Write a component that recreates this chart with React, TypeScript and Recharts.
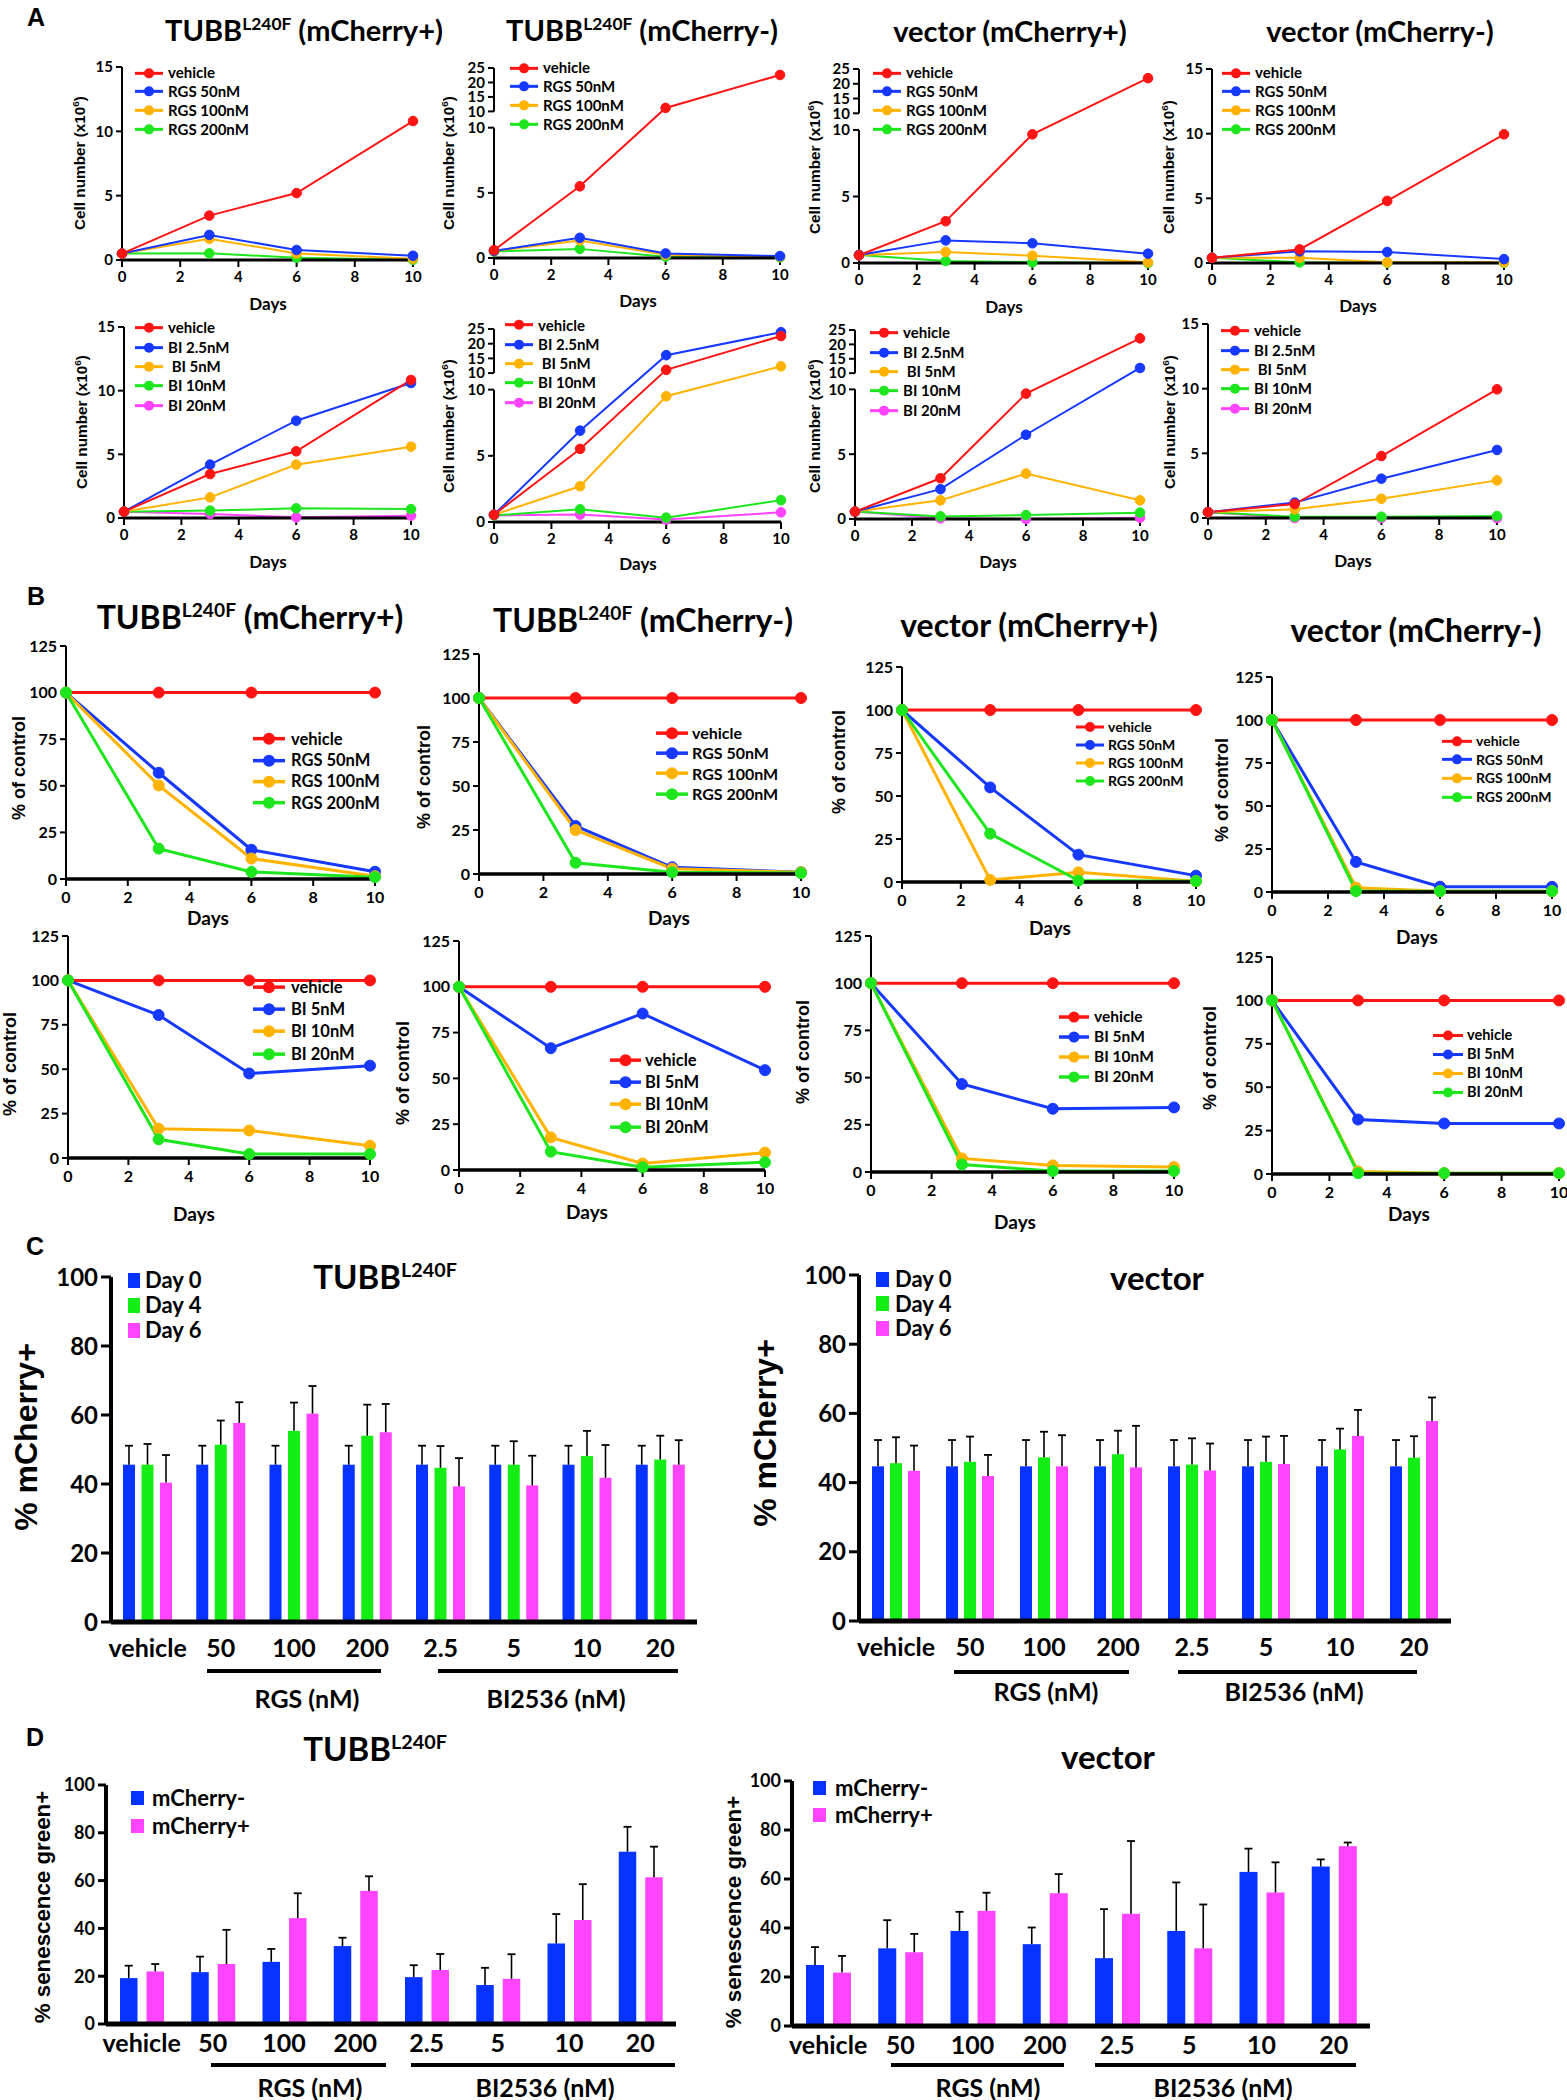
import React from 'react';
import { LineChart, Line, XAxis, YAxis, Legend, ReferenceLine, BarChart, Bar } from 'recharts';

// ---------------- fonts & colours ----------------
const LATO = 'Lato, "Open Sans", "DejaVu Sans", sans-serif';
const ARIAL = '"Liberation Sans", Arial, sans-serif';

const RED = '#ff1414';
const BLUE = '#1638ff';
const ORANGE = '#ffb300';
const GREEN = '#1ee61e';
const MAGENTA = '#ff44ff';
const BAR_BLUE = '#0633ff';
const BAR_GREEN = '#14ee14';
const BAR_MAGENTA = '#ff44ff';

// ---------------- data ----------------
const DAYS = [0, 3, 6, 10];
const DAY_TICKS = [0, 2, 4, 6, 8, 10];
const CELL_TICKS = [0, 5, 10, 15];
const LOWER_TICKS = [0, 5, 10];
const UPPER_TICKS = [10, 15, 20, 25];
const PCT_TICKS = [0, 25, 50, 75, 100, 125];
const BAR_TICKS = [0, 20, 40, 60, 80, 100];
const GROUPS = ['vehicle', '50', '100', '200', '2.5', '5', '10', '20'];

// Panel A: cell number (x10^6) at DAYS
const A_TUBB_POS_RGS = {
  vehicle: [0.5, 3.45, 5.2, 10.8],
  rgs50: [0.5, 1.95, 0.78, 0.33],
  rgs100: [0.5, 1.65, 0.5, 0.1],
  rgs200: [0.5, 0.52, 0.18, 0.02],
};
const A_TUBB_NEG_RGS = {
  vehicle: [0.6, 5.5, 11.2, 22.6],
  rgs50: [0.55, 1.55, 0.35, 0.15],
  rgs100: [0.55, 1.35, 0.25, 0.1],
  rgs200: [0.5, 0.7, 0.1, 0.05],
};
const A_VEC_POS_RGS = {
  vehicle: [0.58, 3.14, 9.67, 21.9],
  rgs50: [0.6, 1.7, 1.48, 0.7],
  rgs100: [0.6, 0.83, 0.55, 0.05],
  rgs200: [0.6, 0.15, 0.05, 0.0],
};
const A_VEC_NEG_RGS = {
  vehicle: [0.4, 1.05, 4.8, 9.95],
  rgs50: [0.4, 0.9, 0.85, 0.3],
  rgs100: [0.4, 0.4, 0.05, 0.05],
  rgs200: [0.4, 0.05, 0.02, 0.02],
};
const A_TUBB_POS_BI = {
  vehicle: [0.5, 3.45, 5.24, 10.84],
  bi25: [0.5, 4.19, 7.64, 10.6],
  bi5: [0.5, 1.62, 4.19, 5.6],
  bi10: [0.5, 0.58, 0.76, 0.7],
  bi20: [0.5, 0.32, 0.05, 0.18],
};
const A_TUBB_NEG_BI = {
  vehicle: [0.55, 5.52, 11.1, 22.6],
  bi25: [0.55, 6.9, 16.1, 23.9],
  bi5: [0.55, 2.7, 9.5, 12.3],
  bi10: [0.5, 0.96, 0.33, 1.65],
  bi20: [0.5, 0.56, 0.18, 0.73],
};
const A_VEC_POS_BI = {
  vehicle: [0.57, 3.14, 9.67, 22.1],
  bi25: [0.57, 2.3, 6.5, 11.8],
  bi5: [0.57, 1.44, 3.5, 1.44],
  bi10: [0.57, 0.2, 0.3, 0.49],
  bi20: [0.57, 0.05, 0.0, 0.1],
};
const A_VEC_NEG_BI = {
  vehicle: [0.45, 1.08, 4.79, 9.95],
  bi25: [0.45, 1.19, 3.04, 5.26],
  bi5: [0.45, 0.67, 1.49, 2.91],
  bi10: [0.45, 0.1, 0.1, 0.15],
  bi20: [0.45, 0.0, 0.0, 0.0],
};

// Panel B: % of control at DAYS
const B_VEHICLE = [100, 100, 100, 100];
const B_TUBB_POS_RGS = { vehicle: B_VEHICLE, rgs50: [100, 57, 15.7, 3.9], rgs100: [100, 50.2, 11, 1.5], rgs200: [100, 16.3, 3.8, 1] };
const B_TUBB_NEG_RGS = { vehicle: B_VEHICLE, rgs50: [100, 27.3, 3.8, 1], rgs100: [100, 25, 3, 1], rgs200: [100, 6.4, 1, 0.5] };
const B_VEC_POS_RGS = { vehicle: B_VEHICLE, rgs50: [100, 55, 15.9, 3.7], rgs100: [100, 1.2, 5.6, 0.5], rgs200: [100, 28.1, 0.8, 0.5] };
const B_VEC_NEG_RGS = { vehicle: B_VEHICLE, rgs50: [100, 17.5, 3.1, 3], rgs100: [100, 2.5, 0.5, 0.5], rgs200: [100, 0.5, 0.5, 0.5] };
const B_TUBB_POS_BI = { vehicle: B_VEHICLE, bi5: [100, 80.5, 47.6, 52], bi10: [100, 16.5, 15.5, 6.9], bi20: [100, 10.5, 2.2, 2.2] };
const B_TUBB_NEG_BI = { vehicle: B_VEHICLE, bi5: [100, 66.5, 85.4, 54.5], bi10: [100, 17.8, 3.6, 9.5], bi20: [100, 10, 1.5, 4.2] };
const B_VEC_POS_BI = { vehicle: B_VEHICLE, bi5: [100, 46.6, 33.5, 34.2], bi10: [100, 7.2, 3.5, 2.6], bi20: [100, 4, 0.5, 0.5] };
const B_VEC_NEG_BI = { vehicle: B_VEHICLE, bi5: [100, 31.4, 29.1, 29.1], bi10: [100, 1.5, 0.5, 0.5], bi20: [100, 0.5, 0.5, 0.5] };

// Panel C: % mCherry+ (mean, upper SD) per GROUPS
const C_TUBB_DAY0 = [45.6, 45.6, 45.6, 45.6, 45.6, 45.6, 45.6, 45.6];
const C_TUBB_DAY0_ERR = [5.5, 5.5, 5.5, 5.5, 5.5, 5.5, 5.5, 5.5];
const C_TUBB_DAY4 = [45.6, 51.4, 55.4, 54, 44.7, 45.6, 48.1, 47.1];
const C_TUBB_DAY4_ERR = [6, 7, 8.2, 9, 6.3, 6.8, 7.3, 6.9];
const C_TUBB_DAY6 = [40.4, 57.7, 60.4, 55, 39.3, 39.6, 41.8, 45.6];
const C_TUBB_DAY6_ERR = [8, 6, 8, 8.2, 8.2, 8.6, 9.5, 7.1];
const C_VEC_DAY0 = [44.7, 44.7, 44.7, 44.7, 44.7, 44.7, 44.7, 44.7];
const C_VEC_DAY0_ERR = [7.6, 7.6, 7.6, 7.6, 7.6, 7.6, 7.6, 7.6];
const C_VEC_DAY4 = [45.6, 46, 47.3, 48.2, 45.2, 46, 49.6, 47.2];
const C_VEC_DAY4_ERR = [7.5, 7.3, 7.4, 6.8, 7.6, 7.3, 6, 6.2];
const C_VEC_DAY6 = [43.4, 41.9, 44.7, 44.4, 43.5, 45.4, 53.5, 57.8];
const C_VEC_DAY6_ERR = [7.3, 6.1, 9, 12, 7.8, 8.1, 7.5, 6.8];

// Panel D: % senescence green+ per GROUPS
const D_TUBB_NEG = [19.2, 21.7, 26, 32.6, 19.6, 16.3, 33.7, 72.1];
const D_TUBB_NEG_ERR = [5.2, 6.5, 5.4, 3.5, 5, 7.2, 12.3, 10.4];
const D_TUBB_POS = [22, 25.1, 44.3, 55.7, 22.6, 18.9, 43.5, 61.4];
const D_TUBB_POS_ERR = [3.1, 14.3, 10.4, 6.1, 6.7, 10.3, 15, 12.8];
const D_VEC_NEG = [24.9, 31.7, 38.8, 33.4, 27.7, 38.8, 62.9, 65.1];
const D_VEC_NEG_ERR = [7.3, 11.5, 7.8, 6.8, 20, 19.8, 9.5, 2.9];
const D_VEC_POS = [21.8, 30.1, 47, 54.2, 45.8, 31.7, 54.5, 73.4];
const D_VEC_POS_ERR = [6.8, 7.5, 7.4, 7.8, 29.7, 17.9, 12.3, 1.5];

// ---------------- series ----------------
type Series = { key: string; name: string; color: string };
const RGS_SERIES: Series[] = [
  { key: 'vehicle', name: 'vehicle', color: RED },
  { key: 'rgs50', name: 'RGS 50nM', color: BLUE },
  { key: 'rgs100', name: 'RGS 100nM', color: ORANGE },
  { key: 'rgs200', name: 'RGS 200nM', color: GREEN },
];
const BI_A_SERIES: Series[] = [
  { key: 'vehicle', name: 'vehicle', color: RED },
  { key: 'bi25', name: 'BI 2.5nM', color: BLUE },
  { key: 'bi5', name: ' BI 5nM', color: ORANGE },
  { key: 'bi10', name: 'BI 10nM', color: GREEN },
  { key: 'bi20', name: 'BI 20nM', color: MAGENTA },
];
const BI_B_SERIES: Series[] = [
  { key: 'vehicle', name: 'vehicle', color: RED },
  { key: 'bi5', name: 'BI 5nM', color: BLUE },
  { key: 'bi10', name: 'BI 10nM', color: ORANGE },
  { key: 'bi20', name: 'BI 20nM', color: GREEN },
];
const C_SERIES: Series[] = [
  { key: 'd0', name: 'Day 0', color: BAR_BLUE },
  { key: 'd4', name: 'Day 4', color: BAR_GREEN },
  { key: 'd6', name: 'Day 6', color: BAR_MAGENTA },
];
const D_SERIES: Series[] = [
  { key: 'neg', name: 'mCherry-', color: BAR_BLUE },
  { key: 'pos', name: 'mCherry+', color: BAR_MAGENTA },
];

// broken-axis (10 | 10) mapping used for four panel A graphs
const BROKEN = { at: 10, gap: 1.25, ratio: 0.222, top: 25 };
const upperPos = (v: number) => BROKEN.at + BROKEN.gap + (v - BROKEN.at) * BROKEN.ratio;
const brokenTf = (v: number) => (v <= BROKEN.at ? v : upperPos(v));

function lineRows(values: Record<string, number[]>, tf: (v: number) => number) {
  return DAYS.map((d, i) => {
    const r: any = { day: d };
    Object.keys(values).forEach((k) => {
      r[k] = tf(values[k][i]);
    });
    return r;
  });
}

function barRows(cols: Record<string, [number[], number[]]>) {
  return GROUPS.map((label, i) => {
    const r: any = { label };
    Object.keys(cols).forEach((k) => {
      r[k] = cols[k][0][i];
      r[k + '_e'] = cols[k][1][i];
    });
    return r;
  });
}

// ---------------- helpers ----------------
const SUP: React.CSSProperties = { fontSize: '0.6em', verticalAlign: '0.6em', lineHeight: 0 };

function T({ x, y, fs, family = LATO, weight = 700, rotate = false, children }: any) {
  return (
    <div
      style={{
        position: 'absolute',
        left: x,
        top: y,
        transform: `translate(-50%, -50%)${rotate ? ' rotate(-90deg)' : ''}`,
        fontSize: fs,
        fontFamily: family,
        fontWeight: weight,
        lineHeight: 1,
        whiteSpace: 'nowrap',
        color: '#000',
      }}
    >
      {children}
    </div>
  );
}

function HBar({ x0, x1, y }: any) {
  return <div style={{ position: 'absolute', left: x0, top: y - 2, width: x1 - x0, height: 4, background: '#000' }} />;
}

const TubbTitle = ({ suffix }: { suffix?: string }) => (
  <>
    TUBB<sup style={SUP}>L240F</sup>
    {suffix ? ` ${suffix}` : ''}
  </>
);

function LineLegend({ items, fs, row, icon, r, gap, lw }: any) {
  return (
    <div style={{ lineHeight: 1 }}>
      {items.map((s: Series) => (
        <div key={s.key} style={{ display: 'flex', alignItems: 'center', height: row }}>
          <svg width={icon} height={row} style={{ display: 'block', flex: 'none' }}>
            <line x1={0} x2={icon} y1={row / 2} y2={row / 2} stroke={s.color} strokeWidth={lw} />
            <circle cx={icon / 2} cy={row / 2} r={r} fill={s.color} />
          </svg>
          <span style={{ marginLeft: gap, fontFamily: LATO, fontWeight: 700, fontSize: fs, color: '#000', whiteSpace: 'pre' }}>
            {s.name}
          </span>
        </div>
      ))}
    </div>
  );
}

function BarLegend({ items, fs, row, sw, sh, gap }: any) {
  return (
    <div style={{ lineHeight: 1 }}>
      {items.map((s: Series) => (
        <div key={s.key} style={{ display: 'flex', alignItems: 'center', height: row }}>
          <div style={{ width: sw, height: sh, background: s.color, flex: 'none' }} />
          <span style={{ marginLeft: gap, fontFamily: LATO, fontWeight: 700, fontSize: fs, color: '#000', whiteSpace: 'nowrap' }}>
            {s.name}
          </span>
        </div>
      ))}
    </div>
  );
}

// ---------------- line graph ----------------
const YW = 44;
const MT = 10;
const MR = 14;
const XH = 36;

type LineProps = {
  g: { x0: number; x1: number; y0: number; y1: number };
  values: Record<string, number[]>;
  series: Series[];
  topFirst?: boolean;
  yMax?: number;
  yTicks?: number[];
  broken?: boolean;
  st: { dotR: number; lw: number; tickFs: number; xlw: number; xtm: number };
  legend: { x: number; y: number; fs: number; row: number; icon: number; r: number; gap: number; lw: number };
};

function LineGraph({ g, values, series, topFirst, yMax, yTicks, broken, st, legend }: LineProps) {
  const tf = broken ? brokenTf : (v: number) => v;
  const rows = lineRows(values, tf);
  const domainMax = broken ? upperPos(BROKEN.top) : (yMax as number);
  const tickPos = broken ? [...LOWER_TICKS, ...UPPER_TICKS.map(upperPos)] : (yTicks as number[]);
  const tickLab = broken ? [...LOWER_TICKS, ...UPPER_TICKS].map(String) : (yTicks as number[]).map(String);
  const left = g.x0 - YW;
  const top = g.y0 - MT;
  const width = g.x1 - g.x0 + YW + MR;
  const height = g.y1 - g.y0 + MT + XH;
  const order = topFirst ? [...series].reverse() : series;
  const tickStyle = { fill: '#000', fontSize: st.tickFs, fontFamily: LATO, fontWeight: 700 };
  return (
    <div style={{ position: 'absolute', left, top }}>
      <LineChart width={width} height={height} data={rows} margin={{ top: MT, right: MR, bottom: 0, left: 0 }}>
        <XAxis
          type="number"
          dataKey="day"
          domain={[0, 10]}
          ticks={DAY_TICKS}
          interval={0}
          height={XH}
          tickSize={7}
          tickMargin={st.xtm}
          axisLine={{ stroke: '#000', strokeWidth: st.xlw }}
          tickLine={{ stroke: '#000', strokeWidth: 2 }}
          tick={tickStyle}
        />
        <YAxis
          type="number"
          domain={[0, domainMax]}
          ticks={tickPos}
          interval={0}
          width={YW}
          tickSize={6}
          tickMargin={3}
          axisLine={broken ? false : { stroke: '#000', strokeWidth: 2 }}
          tickLine={{ stroke: '#000', strokeWidth: 2 }}
          tick={tickStyle}
          tickFormatter={(v: number) => {
            const i = tickPos.findIndex((t) => Math.abs(t - v) < 1e-6);
            return i >= 0 ? tickLab[i] : String(v);
          }}
        />
        {broken && (
          <ReferenceLine segment={[{ x: 0, y: 0 }, { x: 0, y: BROKEN.at }]} stroke="#000" strokeWidth={2} />
        )}
        {broken && (
          <ReferenceLine
            segment={[{ x: 0, y: upperPos(BROKEN.at) }, { x: 0, y: upperPos(BROKEN.top) }]}
            stroke="#000"
            strokeWidth={2}
          />
        )}
        {order.map((s) => (
          <Line
            key={s.key}
            type="linear"
            dataKey={s.key}
            name={s.name}
            stroke={s.color}
            strokeWidth={st.lw}
            dot={{ r: st.dotR, fill: s.color, stroke: s.color, strokeWidth: 1 }}
            activeDot={false}
            isAnimationActive={false}
          />
        ))}
        <Legend
          layout="vertical"
          align="center"
          verticalAlign="middle"
          wrapperStyle={{ left: legend.x - left, top: legend.y - legend.row / 2 - top, width: 'auto' }}
          content={() => <LineLegend items={series} {...legend} />}
        />
      </LineChart>
    </div>
  );
}

// ---------------- bar graph ----------------
function BarWithErr(p: any) {
  const { x, y, width, height, fill, payload, valKey } = p;
  const v = payload[valKey];
  const e = payload[valKey + '_e'];
  const k = v > 0 ? height / v : 0;
  const cx = x + width / 2;
  const yTop = y - e * k;
  return (
    <g>
      <rect x={x} y={y} width={width} height={height} fill={fill} />
      <line x1={cx} x2={cx} y1={y} y2={yTop} stroke="#000" strokeWidth={1.6} />
      <line x1={cx - 4} x2={cx + 4} y1={yTop} y2={yTop} stroke="#000" strokeWidth={1.8} />
    </g>
  );
}

type BarProps = {
  g: { x0: number; x1: number; y0: number; y1: number };
  rows: any[];
  series: Series[];
  yw: number;
  barSize: number;
  barGap: number;
  yFs: number;
  yTick: number;
  xFs: number;
  xtm: number;
  legend: { x: number; y: number; fs: number; row: number; sw: number; sh: number; gap: number };
};

function BarGraph({ g, rows, series, yw, barSize, barGap, yFs, yTick, xFs, xtm, legend }: BarProps) {
  const MTb = 16;
  const MRb = 6;
  const XHb = 44;
  const left = g.x0 - yw;
  const top = g.y0 - MTb;
  const width = g.x1 - g.x0 + yw + MRb;
  const height = g.y1 - g.y0 + MTb + XHb;
  return (
    <div style={{ position: 'absolute', left, top }}>
      <BarChart
        width={width}
        height={height}
        data={rows}
        margin={{ top: MTb, right: MRb, bottom: 0, left: 0 }}
        barSize={barSize}
        barGap={barGap}
      >
        <XAxis
          dataKey="label"
          interval={0}
          height={XHb}
          tickSize={0}
          tickMargin={xtm}
          axisLine={{ stroke: '#000', strokeWidth: 5 }}
          tickLine={false}
          tick={{ fill: '#000', fontSize: xFs, fontFamily: LATO, fontWeight: 700 }}
        />
        <YAxis
          type="number"
          domain={[0, 100]}
          ticks={BAR_TICKS}
          interval={0}
          width={yw}
          tickSize={yTick}
          tickMargin={3}
          axisLine={{ stroke: '#000', strokeWidth: 4 }}
          tickLine={{ stroke: '#000', strokeWidth: 3 }}
          tick={{ fill: '#000', fontSize: yFs, fontFamily: LATO, fontWeight: 700 }}
        />
        {series.map((s) => (
          <Bar
            key={s.key}
            dataKey={s.key}
            name={s.name}
            fill={s.color}
            isAnimationActive={false}
            shape={(p: any) => <BarWithErr {...p} valKey={s.key} />}
          />
        ))}
        <Legend
          layout="vertical"
          align="center"
          verticalAlign="middle"
          wrapperStyle={{ left: legend.x - left, top: legend.y - legend.row / 2 - top, width: 'auto' }}
          content={() => <BarLegend items={series} {...legend} />}
        />
      </BarChart>
    </div>
  );
}

// ---------------- styles ----------------
const A_ST = { dotR: 4.8, lw: 2, tickFs: 15, xlw: 3, xtm: 4 };
const B_ST = { dotR: 5.5, lw: 3, tickFs: 16, xlw: 3.5, xtm: 6 };
const A_LEG = { fs: 15, row: 18.7, icon: 28, r: 5, gap: 5, lw: 3 };
const A_LEG_BI = { ...A_LEG, row: 19.3 };

const C1_ROWS = barRows({ d0: [C_TUBB_DAY0, C_TUBB_DAY0_ERR], d4: [C_TUBB_DAY4, C_TUBB_DAY4_ERR], d6: [C_TUBB_DAY6, C_TUBB_DAY6_ERR] });
const C2_ROWS = barRows({ d0: [C_VEC_DAY0, C_VEC_DAY0_ERR], d4: [C_VEC_DAY4, C_VEC_DAY4_ERR], d6: [C_VEC_DAY6, C_VEC_DAY6_ERR] });
const D1_ROWS = barRows({ neg: [D_TUBB_NEG, D_TUBB_NEG_ERR], pos: [D_TUBB_POS, D_TUBB_POS_ERR] });
const D2_ROWS = barRows({ neg: [D_VEC_NEG, D_VEC_NEG_ERR], pos: [D_VEC_POS, D_VEC_POS_ERR] });

const CELL_LABEL = (
  <>
    Cell number (x10<sup style={{ fontSize: '0.65em', verticalAlign: '0.6em', lineHeight: 0 }}>6</sup>)
  </>
);

const YL_A = 15.3;
const YL_B = 18;

export default function App() {
  return (
    <div
      style={{
        position: 'absolute',
        left: 0,
        top: 0,
        width: 1567,
        height: 2100,
        background: '#fff',
        overflow: 'hidden',
      }}
    >
      {/* panel letters */}
      <T x={36} y={17} fs={25} family={ARIAL}>A</T>
      <T x={36} y={596} fs={25} family={ARIAL}>B</T>
      <T x={35} y={1246} fs={25} family={ARIAL}>C</T>
      <T x={35} y={1737} fs={25} family={ARIAL}>D</T>

      {/* ---------- Panel A titles ---------- */}
      <T x={304} y={29} fs={29}><TubbTitle suffix="(mCherry+)" /></T>
      <T x={642} y={29} fs={29}><TubbTitle suffix="(mCherry-)" /></T>
      <T x={1010} y={30} fs={29}>vector (mCherry+)</T>
      <T x={1380} y={30} fs={29}>vector (mCherry-)</T>

      {/* Panel A row 1 */}
      <LineGraph g={{ x0: 122, x1: 413, y0: 67, y1: 260 }} values={A_TUBB_POS_RGS} series={RGS_SERIES} topFirst yMax={15} yTicks={CELL_TICKS} st={A_ST} legend={{ ...A_LEG, x: 135, y: 73 }} />
      <LineGraph g={{ x0: 494, x1: 780, y0: 68, y1: 258 }} values={A_TUBB_NEG_RGS} series={RGS_SERIES} topFirst broken st={A_ST} legend={{ ...A_LEG, x: 510, y: 68 }} />
      <LineGraph g={{ x0: 859, x1: 1148, y0: 69, y1: 263 }} values={A_VEC_POS_RGS} series={RGS_SERIES} topFirst broken st={A_ST} legend={{ ...A_LEG, x: 873, y: 73 }} />
      <LineGraph g={{ x0: 1212, x1: 1504, y0: 69, y1: 263 }} values={A_VEC_NEG_RGS} series={RGS_SERIES} topFirst yMax={15} yTicks={CELL_TICKS} st={A_ST} legend={{ ...A_LEG, x: 1222, y: 73 }} />

      {/* Panel A row 2 */}
      <LineGraph g={{ x0: 124, x1: 411, y0: 327, y1: 518 }} values={A_TUBB_POS_BI} series={BI_A_SERIES} topFirst yMax={15} yTicks={CELL_TICKS} st={A_ST} legend={{ ...A_LEG_BI, x: 135, y: 328 }} />
      <LineGraph g={{ x0: 494, x1: 781, y0: 329, y1: 522 }} values={A_TUBB_NEG_BI} series={BI_A_SERIES} topFirst broken st={A_ST} legend={{ ...A_LEG_BI, x: 505, y: 325 }} />
      <LineGraph g={{ x0: 855, x1: 1140, y0: 330, y1: 519 }} values={A_VEC_POS_BI} series={BI_A_SERIES} topFirst broken st={A_ST} legend={{ ...A_LEG_BI, x: 870, y: 333 }} />
      <LineGraph g={{ x0: 1208, x1: 1497, y0: 324, y1: 518 }} values={A_VEC_NEG_BI} series={BI_A_SERIES} topFirst yMax={15} yTicks={CELL_TICKS} st={A_ST} legend={{ ...A_LEG_BI, x: 1221, y: 331 }} />

      {/* Panel A axis labels */}
      <T x={80} y={163} fs={YL_A} family={ARIAL} rotate>{CELL_LABEL}</T>
      <T x={449} y={163} fs={YL_A} family={ARIAL} rotate>{CELL_LABEL}</T>
      <T x={815} y={167} fs={YL_A} family={ARIAL} rotate>{CELL_LABEL}</T>
      <T x={1169} y={167} fs={YL_A} family={ARIAL} rotate>{CELL_LABEL}</T>
      <T x={82} y={422} fs={YL_A} family={ARIAL} rotate>{CELL_LABEL}</T>
      <T x={449} y={426} fs={YL_A} family={ARIAL} rotate>{CELL_LABEL}</T>
      <T x={815} y={426} fs={YL_A} family={ARIAL} rotate>{CELL_LABEL}</T>
      <T x={1170} y={422} fs={YL_A} family={ARIAL} rotate>{CELL_LABEL}</T>
      <T x={268} y={303} fs={17}>Days</T>
      <T x={638} y={300} fs={17}>Days</T>
      <T x={1004} y={306} fs={17}>Days</T>
      <T x={1358} y={305} fs={17}>Days</T>
      <T x={268} y={561} fs={17}>Days</T>
      <T x={638} y={563} fs={17}>Days</T>
      <T x={998} y={561} fs={17}>Days</T>
      <T x={1353} y={560} fs={17}>Days</T>

      {/* ---------- Panel B ---------- */}
      <T x={250} y={617} fs={32}><TubbTitle suffix="(mCherry+)" /></T>
      <T x={643} y={620} fs={32}><TubbTitle suffix="(mCherry-)" /></T>
      <T x={1029} y={625} fs={32}>vector (mCherry+)</T>
      <T x={1416} y={630} fs={32}>vector (mCherry-)</T>

      <LineGraph g={{ x0: 66, x1: 375, y0: 646, y1: 879 }} values={B_TUBB_POS_RGS} series={RGS_SERIES} yMax={125} yTicks={PCT_TICKS} st={B_ST} legend={{ fs: 16.5, row: 21.3, icon: 32, r: 6, gap: 6, lw: 3.5, x: 253, y: 739 }} />
      <LineGraph g={{ x0: 479, x1: 801, y0: 654, y1: 874 }} values={B_TUBB_NEG_RGS} series={RGS_SERIES} yMax={125} yTicks={PCT_TICKS} st={B_ST} legend={{ fs: 16, row: 20.3, icon: 32, r: 6, gap: 4, lw: 3.5, x: 656, y: 733 }} />
      <LineGraph g={{ x0: 902, x1: 1196, y0: 667, y1: 882 }} values={B_VEC_POS_RGS} series={RGS_SERIES} yMax={125} yTicks={PCT_TICKS} st={B_ST} legend={{ fs: 14, row: 18, icon: 28, r: 5, gap: 4, lw: 3, x: 1076, y: 727 }} />
      <LineGraph g={{ x0: 1272, x1: 1552, y0: 677, y1: 892 }} values={B_VEC_NEG_RGS} series={RGS_SERIES} yMax={125} yTicks={PCT_TICKS} st={B_ST} legend={{ fs: 14, row: 18.7, icon: 30, r: 5, gap: 4, lw: 3, x: 1442, y: 741 }} />

      <LineGraph g={{ x0: 68, x1: 370, y0: 936, y1: 1158 }} values={B_TUBB_POS_BI} series={BI_B_SERIES} yMax={125} yTicks={PCT_TICKS} st={B_ST} legend={{ fs: 16.5, row: 22.3, icon: 32, r: 6, gap: 6, lw: 3.5, x: 253, y: 987 }} />
      <LineGraph g={{ x0: 459, x1: 765, y0: 941, y1: 1170 }} values={B_TUBB_NEG_BI} series={BI_B_SERIES} yMax={125} yTicks={PCT_TICKS} st={B_ST} legend={{ fs: 16.5, row: 22.3, icon: 31, r: 6, gap: 4, lw: 3.5, x: 610, y: 1060 }} />
      <LineGraph g={{ x0: 871, x1: 1174, y0: 936, y1: 1172 }} values={B_VEC_POS_BI} series={BI_B_SERIES} yMax={125} yTicks={PCT_TICKS} st={B_ST} legend={{ fs: 15.5, row: 20, icon: 30, r: 5.5, gap: 5, lw: 3.5, x: 1059, y: 1017 }} />
      <LineGraph g={{ x0: 1272, x1: 1559, y0: 957, y1: 1174 }} values={B_VEC_NEG_BI} series={BI_B_SERIES} yMax={125} yTicks={PCT_TICKS} st={B_ST} legend={{ fs: 14.5, row: 19, icon: 30, r: 5, gap: 4, lw: 3, x: 1433, y: 1035 }} />

      <T x={19} y={768} fs={YL_B} family={ARIAL} rotate>% of control</T>
      <T x={424} y={777} fs={YL_B} family={ARIAL} rotate>% of control</T>
      <T x={839} y={762} fs={YL_B} family={ARIAL} rotate>% of control</T>
      <T x={1222} y={790} fs={YL_B} family={ARIAL} rotate>% of control</T>
      <T x={10} y={1064} fs={YL_B} family={ARIAL} rotate>% of control</T>
      <T x={403} y={1073} fs={YL_B} family={ARIAL} rotate>% of control</T>
      <T x={803} y={1052} fs={YL_B} family={ARIAL} rotate>% of control</T>
      <T x={1210} y={1058} fs={YL_B} family={ARIAL} rotate>% of control</T>
      <T x={208} y={917} fs={19}>Days</T>
      <T x={669} y={917} fs={19}>Days</T>
      <T x={1050} y={927} fs={19}>Days</T>
      <T x={1417} y={936} fs={19}>Days</T>
      <T x={194} y={1213} fs={19}>Days</T>
      <T x={587} y={1211} fs={19}>Days</T>
      <T x={1015} y={1221} fs={19}>Days</T>
      <T x={1409} y={1213} fs={19}>Days</T>

      {/* ---------- Panel C ---------- */}
      <T x={385} y={1276} fs={33}><TubbTitle /></T>
      <T x={1157} y={1277} fs={33}>vector</T>
      <BarGraph g={{ x0: 111, x1: 697, y0: 1277, y1: 1622 }} rows={C1_ROWS} series={C_SERIES} yw={70} barSize={12} barGap={6.5} yFs={24} yTick={10} xFs={25} xtm={17} legend={{ x: 128, y: 1280, fs: 22, row: 25, sw: 12, sh: 15, gap: 5 }} />
      <BarGraph g={{ x0: 859, x1: 1451, y0: 1275, y1: 1621 }} rows={C2_ROWS} series={C_SERIES} yw={70} barSize={12} barGap={6} yFs={24} yTick={10} xFs={25} xtm={17} legend={{ x: 876, y: 1279, fs: 22, row: 24.5, sw: 13, sh: 15, gap: 6 }} />
      <T x={26} y={1437} fs={32} family={ARIAL} rotate>% mCherry+</T>
      <T x={765} y={1433} fs={32} family={ARIAL} rotate>% mCherry+</T>
      <HBar x0={207} x1={381} y={1671} />
      <HBar x0={438} x1={678} y={1671} />
      <HBar x0={954} x1={1129} y={1672} />
      <HBar x0={1178} x1={1417} y={1672} />
      <T x={307} y={1698} fs={25}>RGS (nM)</T>
      <T x={556} y={1698} fs={25}>BI2536 (nM)</T>
      <T x={1046} y={1691} fs={25}>RGS (nM)</T>
      <T x={1294} y={1691} fs={25}>BI2536 (nM)</T>

      {/* ---------- Panel D ---------- */}
      <T x={375} y={1748} fs={33}><TubbTitle /></T>
      <T x={1108} y={1756} fs={33}>vector</T>
      <BarGraph g={{ x0: 106, x1: 676, y0: 1785, y1: 2024 }} rows={D1_ROWS} series={D_SERIES} yw={56} barSize={17.5} barGap={9} yFs={18} yTick={8} xFs={25} xtm={10} legend={{ x: 131, y: 1798, fs: 22, row: 28, sw: 13, sh: 14, gap: 8 }} />
      <BarGraph g={{ x0: 792, x1: 1370, y0: 1781, y1: 2026 }} rows={D2_ROWS} series={D_SERIES} yw={56} barSize={18} barGap={9} yFs={18} yTick={8} xFs={25} xtm={10} legend={{ x: 813, y: 1788, fs: 22, row: 27, sw: 13, sh: 14, gap: 9 }} />
      <T x={43} y={1907} fs={22.3} family={ARIAL} rotate>% senescence green+</T>
      <T x={734} y={1912} fs={22.3} family={ARIAL} rotate>% senescence green+</T>
      <HBar x0={211} x1={386} y={2065} />
      <HBar x0={411} x1={675} y={2065} />
      <HBar x0={891} x1={1064} y={2065} />
      <HBar x0={1095} x1={1356} y={2065} />
      <T x={310} y={2087} fs={25}>RGS (nM)</T>
      <T x={545} y={2087} fs={25}>BI2536 (nM)</T>
      <T x={988} y={2087} fs={25}>RGS (nM)</T>
      <T x={1223} y={2087} fs={25}>BI2536 (nM)</T>
    </div>
  );
}
